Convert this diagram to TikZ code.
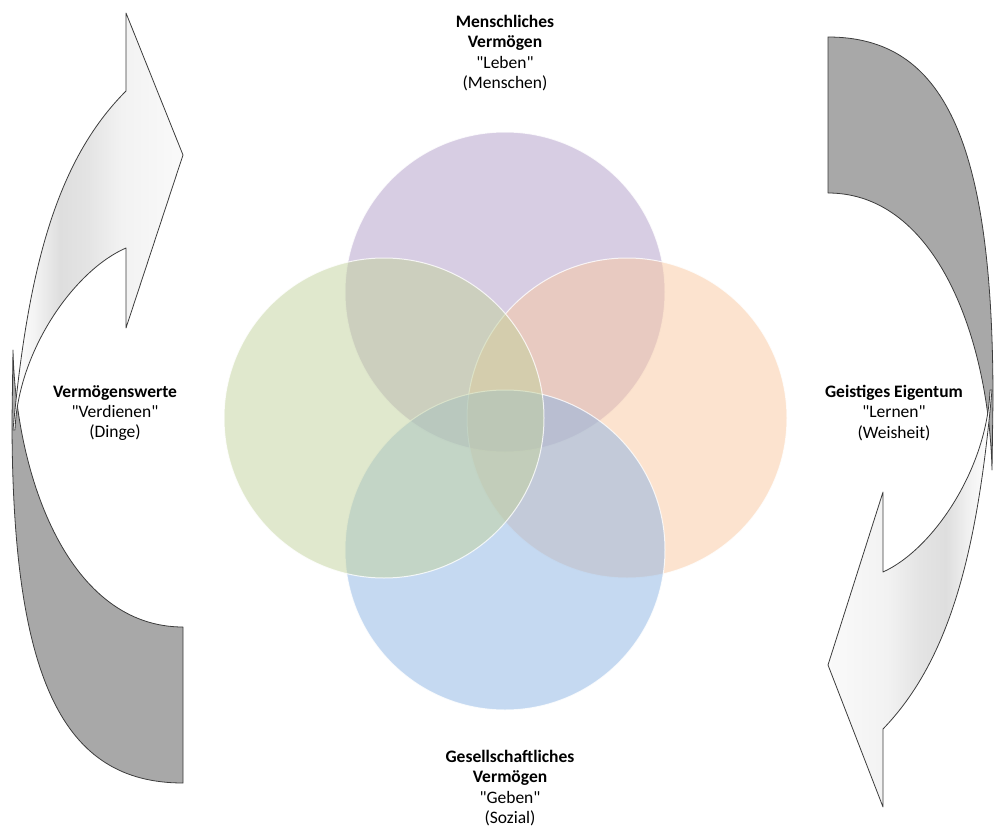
\documentclass[tikz,border=0pt]{standalone}
\usepackage{fontspec}
\setmainfont{Carlito}[Ligatures=TeXOff]
\definecolor{purpC}{RGB}{175,155,199}
\definecolor{orangeC}{RGB}{249,199,159}
\definecolor{blueC}{RGB}{139,179,227}
\definecolor{greenC}{RGB}{193,209,155}
\definecolor{arrowgray}{RGB}{168,168,168}
\definecolor{edgeC}{RGB}{60,60,60}
\definecolor{shA}{RGB}{250,250,250}
\definecolor{shB}{RGB}{244,244,244}
\definecolor{shC}{RGB}{222,222,222}
\definecolor{shD}{RGB}{228,228,228}
\definecolor{shE}{RGB}{242,242,242}
\pgfdeclarehorizontalshading{leftarmshade}{100bp}{color(0bp)=(white); color(25bp)=(white); color(31bp)=(shB); color(39bp)=(shC); color(47bp)=(shD); color(57bp)=(shE); color(75bp)=(shA); color(100bp)=(shA)}
\pgfdeclarehorizontalshading{rightarmshade}{100bp}{color(0bp)=(shA); color(25bp)=(shA); color(43bp)=(shE); color(53bp)=(shD); color(61bp)=(shC); color(69bp)=(shB); color(75bp)=(white); color(100bp)=(white)}
\begin{document}
\begin{tikzpicture}[x=1pt,y=-1pt,
  arrowline/.style={draw=edgeC, line width=0.8pt, line join=round},
  backpart/.style={arrowline, fill=arrowgray},
  venn/.style={circle, minimum size=320pt, inner sep=0pt, draw=white, draw opacity=0.8, line width=1pt, fill opacity=0.5},
  lbl/.style={align=center, font=\fontsize{17.5}{20.3}\selectfont, inner sep=0pt}]
\useasboundingbox (0,0) rectangle (994,827);
\clip (0,0) rectangle (994,827);

% left curved arrow
\path[backpart] (183,783) .. controls (63,783) and (12,680) .. (12,420) -- (13,350)
  .. controls (16,480) and (70,627) .. (183,627) -- cycle;
\path[arrowline, shading=leftarmshade] (13,430) .. controls (28,270) and (56,161) .. (126,91)
  -- (126,13) -- (183,155) -- (126,328) -- (126,248)
  .. controls (75,270) and (18,350) .. (15,430) -- cycle;

% right curved arrow
\path[backpart] (828,37) .. controls (943.8,37) and (993,140) .. (993,400) -- (992,470)
  .. controls (989,340) and (937,193) .. (828,193) -- cycle;
\path[arrowline, shading=rightarmshade] (992,390) .. controls (977.6,550) and (950.6,659) .. (883,729)
  -- (883,807) -- (828,665) -- (883,492) -- (883,572)
  .. controls (932,550) and (987,470) .. (990,390) -- cycle;

% Venn circles
\node[venn, fill=purpC] (human) at (505,292) {};
\node[venn, fill=orangeC] (intel) at (627,418) {};
\node[venn, fill=blueC] (social) at (505,550) {};
\node[venn, fill=greenC] (assets) at (384,418) {};

% labels
\node[lbl] (humanlbl) at (505,53) {\textbf{Menschliches}\\\textbf{Vermögen}\\"Leben"\\(Menschen)};
\node[lbl] (sociallbl) at (510,788) {\textbf{Gesellschaftliches}\\\textbf{Vermögen}\\"Geben"\\(Sozial)};
\node[lbl] (assetslbl) at (115,413) {\textbf{Vermögenswerte}\\"Verdienen"\\(Dinge)};
\node[lbl] (intellbl) at (894,413) {\textbf{Geistiges Eigentum}\\"Lernen"\\(Weisheit)};
\end{tikzpicture}
\end{document}
